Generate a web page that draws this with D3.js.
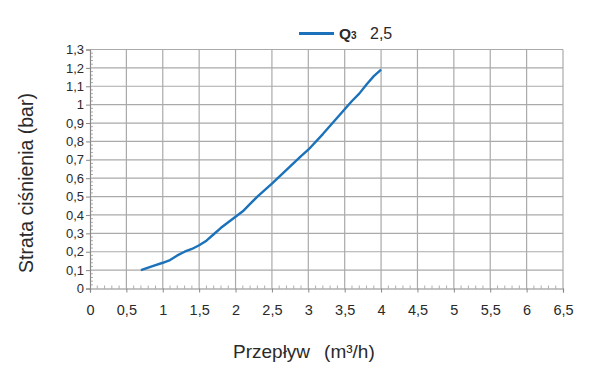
<!DOCTYPE html>
<html><head><meta charset="utf-8">
<script src="https://cdn.jsdelivr.net/npm/d3@7"></script>
<style>body{margin:0;background:#fff}svg{display:block}text{font-family:"Liberation Sans",Arial,sans-serif;fill:#2a2a2a}</style>
</head><body><svg id="c" width="600" height="375"></svg>
<script>
const flow = [0.7,0.85,1.0,1.1,1.2,1.3,1.4,1.5,1.6,1.7,1.8,1.9,2.0,2.1,2.2,2.3,2.5,2.7,2.9,3.0,3.2,3.4,3.5,3.6,3.7,3.8,3.9,4.0];
const loss = [0.10,0.12,0.14,0.155,0.18,0.20,0.215,0.235,0.26,0.295,0.33,0.36,0.39,0.42,0.46,0.50,0.57,0.645,0.72,0.755,0.84,0.93,0.975,1.02,1.06,1.11,1.155,1.19];
const xTicks = [0,0.5,1,1.5,2,2.5,3,3.5,4,4.5,5,5.5,6,6.5];
const yTicks = [0,0.1,0.2,0.3,0.4,0.5,0.6,0.7,0.8,0.9,1,1.1,1.2,1.3];
const seriesName = "2,5";

const svg = d3.select("#c");
const x = d3.scaleLinear().domain([0,6.5]).range([90,563]);
const y = d3.scaleLinear().domain([0,1.3]).range([288.5,49.5]);
const fmt = v => String(v).replace(".", ",");

// grid
const g = svg.append("g");
g.selectAll(".vx").data(xTicks.slice(1)).join("line")
  .attr("x1",d=>x(d)).attr("x2",d=>x(d)).attr("y1",y(0)).attr("y2",y(1.3))
  .attr("stroke","#aaa").attr("stroke-width",1.2);
g.selectAll(".hy").data(yTicks.slice(1)).join("line")
  .attr("x1",x(0)).attr("x2",x(6.5)).attr("y1",d=>y(d)).attr("y2",d=>y(d))
  .attr("stroke","#aaa").attr("stroke-width",1.2);

// minor ticks
const xMinor = d3.range(0,65).map(i=>i/10).filter(v=>Math.abs(v*2-Math.round(v*2))>1e-6);
g.selectAll(".mx").data(xMinor).join("line")
  .attr("x1",d=>x(d)).attr("x2",d=>x(d)).attr("y1",y(0)).attr("y2",y(0)-3)
  .attr("stroke","#999").attr("stroke-width",0.8);
const yMinor = d3.range(0,65).map(i=>i*0.02).filter(v=>Math.abs(v*10-Math.round(v*10))>1e-6);
g.selectAll(".my").data(yMinor).join("line")
  .attr("x1",x(0)).attr("x2",x(0)+3).attr("y1",d=>y(d)).attr("y2",d=>y(d))
  .attr("stroke","#999").attr("stroke-width",0.8);

// axes
const xa = svg.append("g").attr("transform",`translate(0,${y(0)})`)
  .call(d3.axisBottom(x).tickValues(xTicks).tickFormat(fmt).tickSize(4).tickPadding(12));
const ya = svg.append("g").attr("transform",`translate(${x(0)},0)`)
  .call(d3.axisLeft(y).tickValues(yTicks).tickFormat(fmt).tickSize(4).tickPadding(2));
[xa,ya].forEach(a=>{
  a.select(".domain").attr("stroke","#888").attr("stroke-width",1.2);
  a.selectAll(".tick line").attr("stroke","#888");
  a.selectAll("text").style("font-family",'"Liberation Sans",Arial,sans-serif').attr("fill","#2a2a2a");
});
xa.selectAll("text").style("font-size","14.5px");
ya.selectAll("text").style("font-size","13px");

// line
svg.append("path").datum(flow.map((f,i)=>[f,loss[i]]))
  .attr("fill","none").attr("stroke","#1b72bb").attr("stroke-width",2.4)
  .attr("stroke-linejoin","round")
  .attr("d",d3.line().x(d=>x(d[0])).y(d=>y(d[1])));

// legend
svg.append("line").attr("x1",299).attr("x2",334).attr("y1",33.5).attr("y2",33.5)
  .attr("stroke","#1b72bb").attr("stroke-width",3);
const lt = svg.append("text").attr("x",339).attr("y",39).style("font-size","15.5px");
lt.append("tspan").text("Q").style("font-weight","bold");
lt.append("tspan").text("3").style("font-weight","bold").style("font-size","10px");
lt.append("tspan").text(seriesName).attr("x",370).style("font-size","16px");

// titles
const xt = svg.append("text").attr("x",233).attr("y",358).style("font-size","19px");
xt.append("tspan").text("Przepływ");
xt.append("tspan").attr("dx",14).text("(m³/h)");
svg.append("text").attr("transform","translate(33,183) rotate(-90)").attr("text-anchor","middle")
  .style("font-size","19.5px").text("Strata ciśnienia (bar)");
</script></body></html>
